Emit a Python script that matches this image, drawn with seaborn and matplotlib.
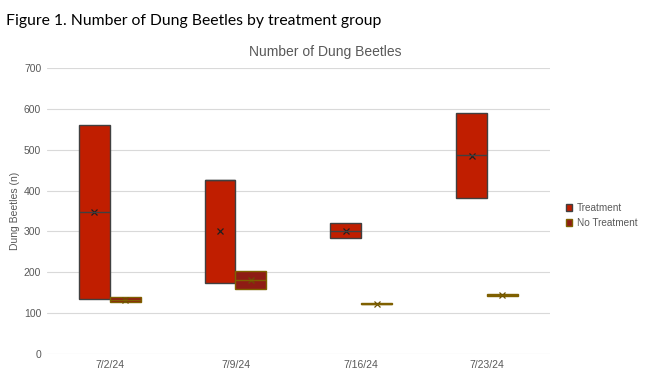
import pandas as pd; import numpy as np; import matplotlib.pyplot as plt; import seaborn as sns
from matplotlib.patches import Patch

# --- values (no whiskers visible) ---
dates = ["7/2/24", "7/9/24", "7/16/24", "7/23/24"]
groups = ["Treatment", "No Treatment"]
trt_low = [135, 173, 285, 381]
trt_med = [348, 425, 302, 487]
trt_high = [561, 426, 320, 591]
trt_mean = [347, 300, 302, 486]
no_low = [127, 159, 122, 141]
no_med = [133, 181, 123, 145]
no_high = [139, 203, 124, 148]
no_mean = [133, 181, 123, 145]

fill = {"Treatment": "#C01E00", "No Treatment": "#8E1C14"}
edge = {"Treatment": "#404040", "No Treatment": "#7F6000"}

# five values per box -> Q1=low, Q3=high, whiskers collapse onto the box
rows, mrows = [], []
for g, lo, md, hi, mn in [("Treatment", trt_low, trt_med, trt_high, trt_mean),
                          ("No Treatment", no_low, no_med, no_high, no_mean)]:
    for d, a, m, b, u in zip(dates, lo, md, hi, mn):
        rows += [{"Date": d, "Group": g, "Beetles": v} for v in (a, a, m, b, b)]
        mrows.append({"Date": d, "Group": g, "Mean": u})
df = pd.DataFrame(rows); means = pd.DataFrame(mrows)

sns.set_style("white")
plt.rcParams["font.family"] = ["Liberation Sans", "DejaVu Sans"]
fig = plt.figure(figsize=(6.5, 3.85), dpi=100)
ax = fig.add_axes([0.072, 0.0805, 0.774, 0.7425])

for g in groups:
    sns.boxplot(data=df[df["Group"] == g], x="Date", y="Beetles", hue="Group",
                order=dates, hue_order=groups, palette=fill, width=0.49, gap=0, dodge=True,
                linecolor=edge[g], linewidth=1.0, showcaps=False, showfliers=False,
                saturation=1, legend=False, ax=ax)
sns.pointplot(data=means, x="Date", y="Mean", hue="Group", order=dates, hue_order=groups,
              dodge=0.245, markers="x", linestyle="none", errorbar=None,
              palette={"Treatment": "#202020", "No Treatment": "#6B5000"},
              markersize=4, markeredgewidth=0.9, legend=False, ax=ax)

ax.set_xlim(-0.5, 3.5); ax.set_ylim(0, 700)
ax.set_yticks(range(0, 701, 100))
ax.yaxis.grid(True, color="#D9D9D9", linewidth=0.8); ax.set_axisbelow(True)
for s in ax.spines.values(): s.set_visible(False)
ax.tick_params(axis="both", length=0, labelsize=7.5, colors="#595959", pad=4)
ax.set_xlabel("")
ax.set_ylabel("Dung Beetles (n)", fontsize=7.5, color="#595959", labelpad=3)

handles = [Patch(facecolor=fill[g], edgecolor=edge[g], linewidth=1.0, label=g) for g in groups]
fig.legend(handles=handles, loc="center left", bbox_to_anchor=(0.857, 0.44), frameon=False,
           fontsize=7.2, labelcolor="#595959", handlelength=0.6, handleheight=0.6,
           handletextpad=0.5, labelspacing=0.5)

fig.text(0.5, 0.855, "Number of Dung Beetles", ha="center", fontsize=10, color="#595959")
fig.text(0.01, 0.945, "Figure 1. Number of Dung Beetles by treatment group",
         fontsize=11.3, color="black", family=["Lato", "DejaVu Sans"], va="center")

fig.savefig("out.png", dpi=100)
